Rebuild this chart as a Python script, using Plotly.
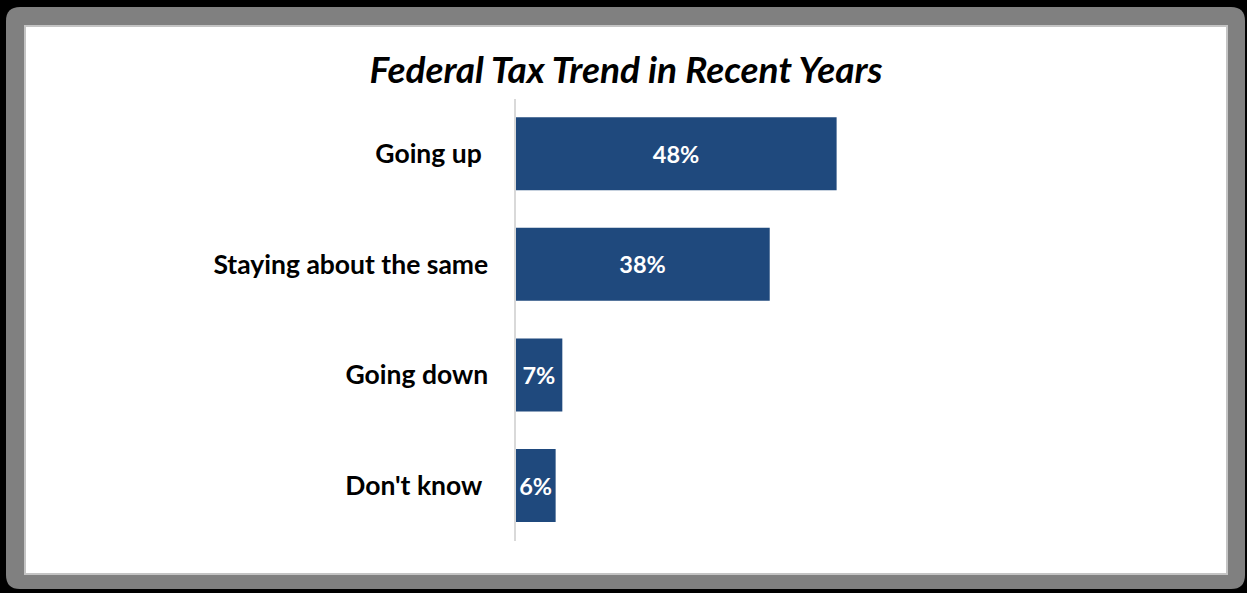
import plotly.graph_objects as go

# Survey responses, listed top to bottom
categories = ["Going up\u00a0", "Staying about the same", "Going down", "Don't know\u00a0"]
shares = [48, 38, 7, 6]
value_labels = ["48%", "38%", "7%", "6%"]

W, H = 1247, 593
FONT = "Lato"
BAR_COLOR = "#1F497D"


def px(x):
    return x / W


def py(y):
    return 1 - y / H


def rounded_rect(x0, y0, x1, y1, r):
    # rounded rectangle path in paper coordinates, corners drawn with quadratic curves
    pts = [
        f"M {px(x0 + r)},{py(y0)}",
        f"L {px(x1 - r)},{py(y0)}",
        f"Q {px(x1)},{py(y0)} {px(x1)},{py(y0 + r)}",
        f"L {px(x1)},{py(y1 - r)}",
        f"Q {px(x1)},{py(y1)} {px(x1 - r)},{py(y1)}",
        f"L {px(x0 + r)},{py(y1)}",
        f"Q {px(x0)},{py(y1)} {px(x0)},{py(y1 - r)}",
        f"L {px(x0)},{py(y0 + r)}",
        f"Q {px(x0)},{py(y0)} {px(x0 + r)},{py(y0)}",
        "Z",
    ]
    return " ".join(pts)


fig = go.Figure(
    go.Bar(
        x=shares,
        y=categories,
        orientation="h",
        marker=dict(color=BAR_COLOR, line=dict(width=0)),
        text=value_labels,
        textposition="inside",
        insidetextanchor="middle",
        constraintext="none",
        textfont=dict(family=FONT, size=23.5, color="white", weight="bold"),
        hoverinfo="skip",
    )
)

shapes = [
    # grey frame with rounded outer corners
    dict(type="path", xref="paper", yref="paper", layer="below",
         path=rounded_rect(6, 7, 1245, 589, 14),
         fillcolor="#808080", line=dict(width=0)),
    # white chart area with a thin light edge
    dict(type="rect", xref="paper", yref="paper", layer="below",
         x0=px(25), x1=px(1227), y0=py(574), y1=py(26),
         fillcolor="white", line=dict(color="#c4c4c4", width=2)),
]

fig.update_layout(
    width=W,
    height=H,
    autosize=False,
    margin=dict(l=0, r=0, t=0, b=0),
    paper_bgcolor="black",
    plot_bgcolor="rgba(0,0,0,0)",
    bargap=0.34,
    showlegend=False,
    shapes=shapes,
    title=dict(
        text="<i>Federal Tax Trend in Recent Years</i>",
        x=626 / W,
        xanchor="center",
        y=py(70),
        yanchor="middle",
        font=dict(family=FONT, size=37, color="black", weight="bold"),
    ),
    xaxis=dict(
        domain=[px(515.5), px(1184.5)],
        range=[0, 100],
        visible=False,
        fixedrange=True,
    ),
    yaxis=dict(
        domain=[py(540.8), py(98.5)],
        autorange="reversed",
        showline=True,
        linecolor="#d9d9d9",
        linewidth=2,
        showgrid=False,
        ticks="",
        ticklabelstandoff=20,
        tickfont=dict(family=FONT, size=26.5, color="black", weight="bold"),
        fixedrange=True,
    ),
)

fig.write_html("out.html")
